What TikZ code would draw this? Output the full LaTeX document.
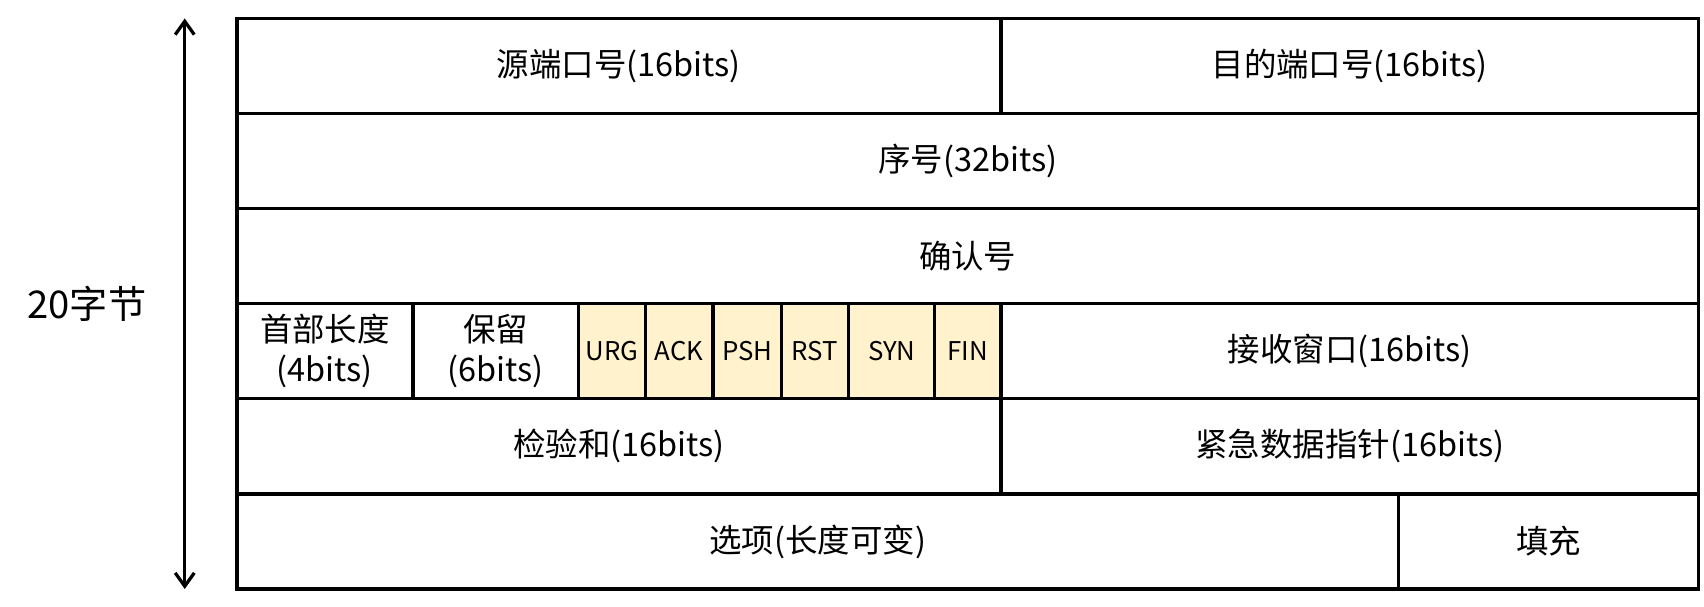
\documentclass[tikz,border=0pt]{standalone}
\usepackage{fontspec}
\usepackage{xcolor}
\usetikzlibrary{arrows.meta, positioning}
\newfontfamily\cjk{Noto Sans CJK SC}
\definecolor{flagfill}{HTML}{FFF2CC}
\tikzset{
        cell/.style={rectangle, draw, line width=1.7pt, minimum height=1.75cm, inner sep=0pt, outer sep=0pt, align=center, font=\cjk\fontsize{17}{21}\selectfont},
        flag/.style={cell, fill=flagfill, font=\cjk\fontsize{13.5}{16}\selectfont},
        sizearrow/.style={{Straight Barb[length=7pt, width=10pt]}-{Straight Barb[length=7pt, width=10pt]}, line width=1.7pt},
    }
\begin{document}
\begin{tikzpicture}
        \useasboundingbox (0,0) rectangle (31.36,-11.17);

        % Row 1: ports
        \node[cell, minimum width=14.06cm, anchor=north west] (srcport) at (4.36,-0.34) {源端口号(16bits)};
        \node[cell, minimum width=12.84cm, right=0pt of srcport] (dstport) {目的端口号(16bits)};

        % Row 2 and 3: sequence and ack numbers
        \node[cell, minimum width=26.9cm, anchor=north west] (seqnum) at (srcport.south west) {序号(32bits)};
        \node[cell, minimum width=26.9cm, anchor=north west] (acknum) at (seqnum.south west) {确认号};

        % Row 4: header length, reserved, flags, window
        \node[cell, minimum width=3.24cm, anchor=north west] (hdrlen) at (acknum.south west) {首部长度\\(4bits)};
        \node[cell, minimum width=3.04cm, right=0pt of hdrlen] (reserved) {保留\\(6bits)};
        \node[flag, minimum width=1.24cm, right=0pt of reserved] (urg) {URG};
        \node[flag, minimum width=1.24cm, right=0pt of urg] (ack) {ACK};
        \node[flag, minimum width=1.26cm, right=0pt of ack] (psh) {PSH};
        \node[flag, minimum width=1.24cm, right=0pt of psh] (rst) {RST};
        \node[flag, minimum width=1.58cm, right=0pt of rst] (syn) {SYN};
        \node[flag, minimum width=1.22cm, right=0pt of syn] (fin) {FIN};
        \node[cell, minimum width=12.84cm, right=0pt of fin] (window) {接收窗口(16bits)};

        % Row 5: checksum, urgent pointer
        \node[cell, minimum width=14.06cm, anchor=north west] (checksum) at (hdrlen.south west) {检验和(16bits)};
        \node[cell, minimum width=12.84cm, right=0pt of checksum] (urgptr) {紧急数据指针(16bits)};

        % Row 6: options, padding
        \node[cell, minimum width=21.38cm, anchor=north west] (options) at (checksum.south west) {选项(长度可变)};
        \node[cell, minimum width=5.52cm, right=0pt of options] (padding) {填充};

        % Size marker
        \coordinate (spantop) at (3.4,-0.34);
        \coordinate (spanbot) at (3.4,-10.84);
        \draw[sizearrow] (spantop) -- (spanbot);
        \node[font=\cjk\fontsize{20}{24}\selectfont] (bytes) at (1.6,-5.6) {20字节};
    \end{tikzpicture}
\end{document}
